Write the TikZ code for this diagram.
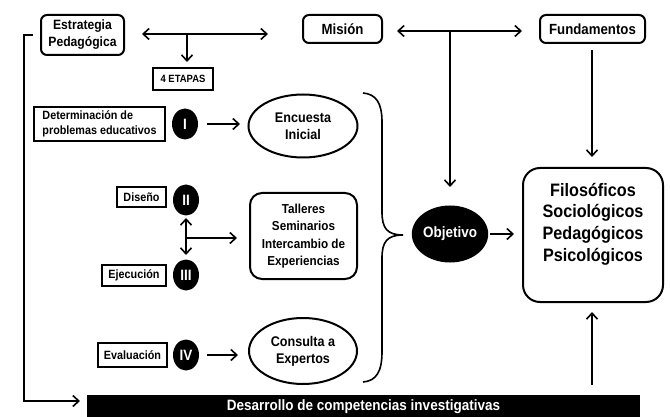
\documentclass[tikz,border=0pt]{standalone}
\usepackage{fontspec}
\setmainfont{Liberation Sans}[FakeStretch=0.9]
\usetikzlibrary{shapes.geometric,arrows.meta}
\tikzset{
  box/.style={draw, line width=2pt, inner sep=0pt, font=\bfseries},
  rbox/.style={box, rounded corners=6pt},
  num/.style={ellipse, fill=black, text=white, inner sep=0pt, minimum width=26pt, minimum height=31pt, font=\bfseries\fontsize{15}{15}\selectfont},
  oval/.style={ellipse, draw, line width=2pt, inner sep=0pt, align=center, font=\bfseries\fontsize{14}{17}\selectfont},
  arr/.style={line width=1.6pt, -{Straight Barb[length=6pt,width=11pt,line width=1.6pt]}},
  darr/.style={line width=1.6pt, {Straight Barb[length=6pt,width=11pt,line width=1.6pt]}-{Straight Barb[length=6pt,width=11pt,line width=1.6pt]}},
}
\begin{document}
\begin{tikzpicture}[x=1pt,y=-1pt]
\useasboundingbox (0,0) rectangle (670,417);
% top boxes
\node[rbox, minimum width=83pt, minimum height=40pt, align=center, font=\bfseries\fontsize{13.5}{17}\selectfont] (estr) at (82.5,35) {Estrategia\\Pedagógica};
\node[rbox, minimum width=79pt, minimum height=28pt, font=\bfseries\fontsize{14.7}{17}\selectfont] (mision) at (342.5,29) {Misión};
\node[rbox, minimum width=105pt, minimum height=28pt, font=\bfseries\fontsize{14.7}{17}\selectfont] (fund) at (592.5,29) {Fundamentos};
\node[box, minimum width=60pt, minimum height=22pt, font=\bfseries\fontsize{10.5}{12}\selectfont] (etapas) at (183,79) {4 ETAPAS};
% stage boxes
\node[box, minimum width=131pt, minimum height=34pt, align=left, font=\bfseries\fontsize{12}{15}\selectfont] (det) at (99.5,124) {Determinación de\\problemas educativos};
\node[box, minimum width=49pt, minimum height=20pt, font=\bfseries\fontsize{12}{14}\selectfont] (dis) at (141.5,197.5) {Diseño};
\node[box, minimum width=64pt, minimum height=21pt, font=\bfseries\fontsize{12}{14}\selectfont] (eje) at (134,275) {Ejecución};
\node[box, minimum width=69pt, minimum height=24pt, font=\bfseries\fontsize{12}{14}\selectfont] (eva) at (132.5,355) {Evaluación};
% numerals
\node[num] (n1) at (185,124) {I};
\node[num] (n2) at (186,200) {II};
\node[num] (n3) at (186,275) {III};
\node[num] (n4) at (186,355) {IV};
% middle column
\node[oval, minimum width=109pt, minimum height=63pt] (enc) at (303,126) {Encuesta\\Inicial};
\node[rbox, rounded corners=12pt, minimum width=107pt, minimum height=86pt, align=center, font=\bfseries\fontsize{13}{17.5}\selectfont] (tal) at (303.5,236) {Talleres\\Seminarios\\Intercambio de\\Experiencias};
\node[oval, minimum width=108pt, minimum height=66pt] (con) at (303,351) {Consulta a\\Expertos};
% objetivo
\node[ellipse, fill=black, text=white, inner sep=0pt, minimum width=76pt, minimum height=57pt, font=\bfseries\fontsize{15}{17}\selectfont] (obj) at (450,234) {Objetivo};
% big box
\node[draw, line width=2pt, rounded corners=17pt, minimum width=140pt, minimum height=134pt] (big) at (593,235) {};
\node[align=center, inner sep=0pt, font=\bfseries\fontsize{18}{21.7}\selectfont] (bigt) at (593,224) {Filosóficos\\Sociológicos\\Pedagógicos\\Psicológicos};
% bottom bar
\node[fill=black, text=white, inner sep=0pt, minimum width=553pt, minimum height=24pt, font=\bfseries\fontsize{15}{17}\selectfont] (bar) at (363.5,407) {Desarrollo de competencias investigativas};
% coordinates
\coordinate (e1) at (142,34);
\coordinate (e2) at (268,34);
\coordinate (e3) at (187,34);
\coordinate (e4) at (187,62);
\coordinate (m1) at (397,31);
\coordinate (m2) at (522,31);
\coordinate (m3) at (450,31);
\coordinate (m4) at (450,187);
\coordinate (f1) at (592,50);
\coordinate (f2) at (592,157);
\coordinate (i1) at (207,124);
\coordinate (i2) at (240,124);
\coordinate (v1) at (186,218);
\coordinate (v2) at (186,255);
\coordinate (v3) at (186,238);
\coordinate (v4) at (237,238);
\coordinate (iv1) at (207,355);
\coordinate (iv2) at (238,355);
\coordinate (o1) at (490,234);
\coordinate (o2) at (514,234);
\coordinate (u1) at (592,385);
\coordinate (u2) at (592,312);
\coordinate (l1) at (33,35);
\coordinate (l2) at (24,401);
\coordinate (l3) at (80,401);
% arrows
\draw[darr] (e1) -- (e2);
\draw[arr] (e3) -- (e4);
\draw[darr] (m1) -- (m2);
\draw[arr] (m3) -- (m4);
\draw[arr] (f1) -- (f2);
\draw[arr] (i1) -- (i2);
\draw[darr] (v1) -- (v2);
\draw[arr] (v3) -- (v4);
\draw[arr] (iv1) -- (iv2);
\draw[arr] (o1) -- (o2);
\draw[arr] (u1) -- (u2);
\draw[arr] (l1) -| (l2) -- (l3);
% brace
\draw[line width=1.6pt] (363,93) .. controls (376,94) and (382,103) .. (382,122)
  -- (382,212) .. controls (382,228) and (387,235) .. (403,235)
  .. controls (387,235) and (382,242) .. (382,258)
  -- (382,352) .. controls (382,372) and (376,381) .. (363,382);
\end{tikzpicture}
\end{document}
